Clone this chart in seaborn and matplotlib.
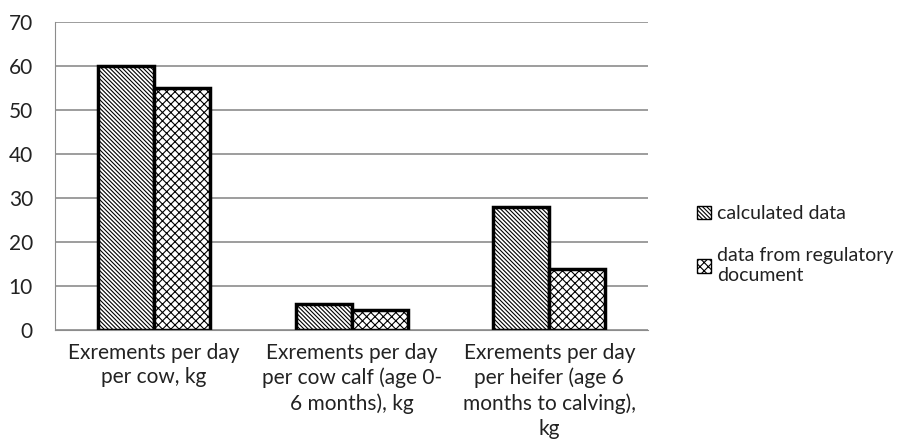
import numpy as np
import pandas as pd
import seaborn as sns
import matplotlib.pyplot as plt
from matplotlib.patches import Patch

categories = [
    "Exrements per day\nper cow, kg",
    "Exrements per day\nper cow calf (age 0-\n6 months), kg",
    "Exrements per day\nper heifer (age 6\nmonths to calving),\nkg",
]
series = ["calculated data", "data from regulatory\ndocument"]
calculated = [60, 5.9, 28]
regulatory = [55, 4.6, 14]

df = pd.DataFrame({
    "category": categories * 2,
    "series": [series[0]] * 3 + [series[1]] * 3,
    "value": calculated + regulatory,
})

sns.set_style("white")
plt.rcParams["font.family"] = ["Lato", "DejaVu Sans"]
plt.rcParams["hatch.linewidth"] = 0.8

fig = plt.figure(figsize=(9.04, 4.45), dpi=100)
ax = fig.add_axes([0.061, 0.258, 0.656, 0.693])

sns.barplot(data=df, x="category", y="value", hue="series", order=categories,
            hue_order=series, width=0.567, gap=0, palette=["white", "white"],
            edgecolor="black", linewidth=2.5, saturation=1, ax=ax, legend=False)

hatches = ["\\" * 8, "xxxx"]
for i, cont in enumerate(ax.containers):
    for bar in cont:
        bar.set_hatch(hatches[i])

ax.set_ylim(0, 70)
ax.set_yticks(range(0, 71, 10))
ax.set_xlim(-0.5, 2.5)
ax.yaxis.grid(True, color="#8c8c8c", linewidth=1.2)
ax.set_axisbelow(True)
for s in ["top", "right"]:
    ax.spines[s].set_visible(False)
ax.spines["left"].set_color("#8c8c8c")
ax.spines["bottom"].set_color("#8c8c8c")
ax.tick_params(axis="x", length=0, labelsize=15, pad=9, labelcolor="#222222")
ax.tick_params(axis="y", length=0, labelsize=15, pad=16, labelcolor="#222222")
ax.set_xlabel("")
ax.set_ylabel("")
for lbl in ax.get_xticklabels():
    lbl.set_linespacing(1.3)

handles = [Patch(facecolor="white", edgecolor="black", hatch=h, linewidth=1) for h in hatches]
fig.legend(handles, series, loc="center left", bbox_to_anchor=(0.752, 0.45),
           frameon=False, fontsize=14, handlelength=0.7, handleheight=0.7,
           handletextpad=0.3, labelspacing=1.3, labelcolor="#222222")

fig.savefig("out.png", dpi=100)
